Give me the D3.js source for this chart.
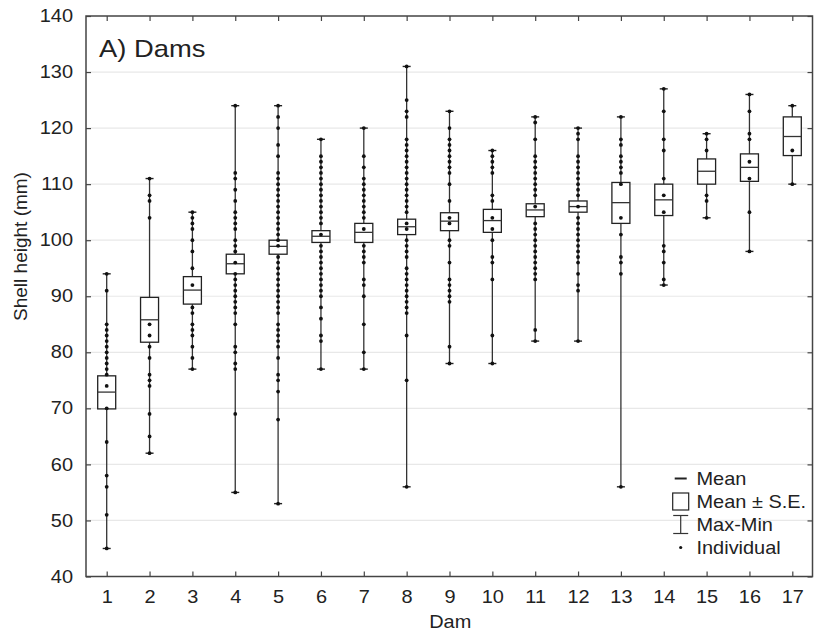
<!DOCTYPE html>
<html><head><meta charset="utf-8">
<script src="https://cdn.jsdelivr.net/npm/d3@7"></script>
<style>body{margin:0;background:#fff}svg{display:block}text{font-family:"Liberation Sans",Arial,Helvetica,sans-serif;fill:#222}</style>
</head><body>
<svg id="c" width="815" height="639"></svg>
<script>
const dams = [1,2,3,4,5,6,7,8,9,10,11,12,13,14,15,16,17];
const means  = [72.9, 85.8, 91.1, 95.8, 98.9, 100.7, 101.4, 102.4, 103.4, 103.5, 105.4, 106, 106.7, 107.2, 112.3, 113, 118.5];
const seLow  = [69.9, 81.8, 88.6, 94, 97.5, 99.6, 99.6, 101, 101.7, 101.4, 104.2, 105, 103, 104.4, 110, 110.5, 115.1];
const seHigh = [75.8, 89.8, 93.5, 97.5, 100, 101.7, 103, 103.75, 104.9, 105.5, 106.5, 107, 110.3, 110, 114.5, 115.4, 122];
const mins = [45, 62, 77, 55, 53, 77, 77, 56, 78, 78, 82, 82, 56, 92, 104, 98, 110];
const maxs = [94, 111, 105, 124, 124, 118, 120, 131, 123, 116, 122, 120, 122, 127, 119, 126, 124];
const individuals = [
  [94, 91, 85, 84, 83, 82, 81, 80, 79, 78, 77, 76, 74, 70, 64, 58, 56, 51, 45],
  [111, 108, 107, 104, 85, 83, 81, 79, 76, 75, 74, 69, 65, 62],
  [105, 104, 103, 102, 100, 98, 95, 92, 88, 87, 85, 84, 83, 81, 79, 77],
  [124, 112, 111, 109, 107, 105, 104, 103, 102, 100, 99, 98, 96, 94, 93, 92, 91, 90, 89, 88, 87, 85, 81, 80, 78, 77, 69, 55],
  [124, 122, 120, 117, 115, 112, 111, 110, 109, 108, 107, 106, 105, 104, 103, 102, 101, 100, 99, 97, 96, 95, 94, 93, 92, 91, 90, 89, 88, 87, 85, 84, 83, 82, 81, 79, 76, 75, 73, 68, 53],
  [118, 115, 114, 113, 112, 111, 110, 109, 108, 107, 106, 105, 104, 103, 101, 99, 98, 97, 96, 95, 94, 93, 92, 91, 90, 88, 86, 83, 82, 77],
  [120, 115, 113, 111, 110, 109, 108, 107, 106, 105, 104, 102, 99, 98, 97, 96, 93, 92, 90, 85, 80, 77],
  [131, 125, 123, 122, 118, 117, 116, 115, 114, 113, 112, 111, 110, 109, 108, 107, 106, 105, 103, 102, 100, 99, 98, 97, 95, 94, 93, 92, 91, 90, 89, 88, 87, 83, 75, 56],
  [123, 120, 118, 117, 116, 115, 114, 113, 112, 110, 107, 104, 103, 100, 99, 96, 93, 92, 91, 90, 89, 81, 78],
  [116, 115, 114, 113, 112, 108, 107, 104, 102, 100, 97, 96, 93, 83, 78],
  [122, 121, 118, 115, 114, 113, 112, 111, 110, 109, 108, 106, 103, 102, 101, 100, 99, 98, 97, 96, 95, 94, 93, 84, 82],
  [120, 119, 118, 115, 114, 113, 112, 111, 110, 109, 108, 106, 104, 103, 102, 101, 100, 99, 98, 97, 96, 94, 92, 91, 82],
  [122, 118, 117, 115, 114, 113, 112, 110, 104, 101, 97, 96, 94, 56],
  [127, 123, 118, 116, 111, 108, 105, 99, 98, 96, 93, 92],
  [119, 118, 116, 108, 107, 104],
  [126, 123, 119, 118, 114, 111, 105, 98],
  [124, 116, 110]
];
const yTicks = [40, 50, 60, 70, 80, 90, 100, 110, 120, 130, 140];
const legendItems = ["Mean", "Mean \u00b1 S.E.", "Max-Min", "Individual"];

const SX = 1.14; // horizontal text stretch
const svg = d3.select("#c");
const L = 86, R = 812.5, T = 16, B = 576.5;
const x = d3.scalePoint().domain(dams).range([106.7, 792.3]);
const y = d3.scaleLinear().domain([40, 140]).range([B, T]);

function stretchText(sel){
  sel.each(function(){
    const t = d3.select(this);
    const xx = +t.attr("x") || 0, yy = +t.attr("y") || 0;
    t.attr("x", 0).attr("y", 0).attr("transform", `translate(${xx},${yy}) scale(${SX},1)`);
  });
}

// gridlines
svg.append("g").selectAll("line").data(yTicks.filter(d => d > 40 && d < 140)).join("line")
  .attr("x1", L).attr("x2", R).attr("y1", d => y(d)).attr("y2", d => y(d))
  .attr("stroke", "#e8e8e8").attr("stroke-width", 1.2);

// axes
const gl = svg.append("g").attr("transform", `translate(${L},0)`)
  .call(d3.axisLeft(y).tickValues(yTicks).tickSize(-5).tickPadding(13).tickFormat(d3.format("d")));
const gr = svg.append("g").attr("transform", `translate(${R},0)`)
  .call(d3.axisRight(y).tickValues(yTicks).tickSize(-5).tickFormat(""));
const gb = svg.append("g").attr("transform", `translate(0,${B})`)
  .call(d3.axisBottom(x).tickSize(-5).tickPadding(14));
const gt = svg.append("g").attr("transform", `translate(0,${T})`)
  .call(d3.axisTop(x).tickSize(-5).tickFormat(""));
[gl, gr, gb, gt].forEach(g => {
  g.select(".domain").remove();
  g.selectAll("line").attr("stroke", "#444").attr("stroke-width", 1.2);
  g.selectAll("text").attr("font-size", 17.5).attr("fill", "#222").attr("font-family", '"Liberation Sans",Arial,sans-serif');
});
stretchText(gl.selectAll("text"));
stretchText(gb.selectAll("text"));

// frame
svg.append("rect").attr("x", L).attr("y", T).attr("width", R - L).attr("height", B - T)
  .attr("fill", "none").attr("stroke", "#444").attr("stroke-width", 1.5);

// axis titles
svg.append("text").attr("font-size", 17.5).attr("text-anchor", "middle")
  .attr("transform", `translate(${(L + R) / 2 + 1},628) scale(${SX},1)`).text("Dam");
svg.append("text").attr("font-size", 19).attr("text-anchor", "middle")
  .attr("transform", `translate(27,246.5) rotate(-90)`).text("Shell height (mm)");

// panel label
svg.append("text").attr("font-size", 24).attr("transform", `translate(99,57) scale(${SX},1)`).text("A) Dams");

// boxes
const bw = 18, cap = 8;
const g = svg.append("g");
const rows = dams.map((d, i) => ({d, mean: means[i], lo: seLow[i], hi: seHigh[i], mn: mins[i], mx: maxs[i], pts: individuals[i]}));
g.selectAll(".wh").data(rows).join("line")
  .attr("x1", r => x(r.d)).attr("x2", r => x(r.d)).attr("y1", r => y(r.mn)).attr("y2", r => y(r.mx))
  .attr("stroke", "#333").attr("stroke-width", 1.3);
g.selectAll(".capmin").data(rows).join("line")
  .attr("x1", r => x(r.d) - cap / 2).attr("x2", r => x(r.d) + cap / 2).attr("y1", r => y(r.mn)).attr("y2", r => y(r.mn))
  .attr("stroke", "#222").attr("stroke-width", 1.4);
g.selectAll(".capmax").data(rows).join("line")
  .attr("x1", r => x(r.d) - cap / 2).attr("x2", r => x(r.d) + cap / 2).attr("y1", r => y(r.mx)).attr("y2", r => y(r.mx))
  .attr("stroke", "#222").attr("stroke-width", 1.4);
g.selectAll(".box").data(rows).join("rect")
  .attr("x", r => x(r.d) - bw / 2).attr("width", bw).attr("y", r => y(r.hi)).attr("height", r => y(r.lo) - y(r.hi))
  .attr("fill", "#fff").attr("stroke", "#222").attr("stroke-width", 1.3);
g.selectAll(".mean").data(rows).join("line")
  .attr("x1", r => x(r.d) - bw / 2).attr("x2", r => x(r.d) + bw / 2).attr("y1", r => y(r.mean)).attr("y2", r => y(r.mean))
  .attr("stroke", "#333").attr("stroke-width", 1.3);
g.selectAll(".pts").data(rows).join("g").each(function(r){
  d3.select(this).selectAll("circle").data(r.pts).join("circle")
    .attr("cx", x(r.d)).attr("cy", v => y(v)).attr("r", 1.9).attr("fill", "#111");
});

// legend
const lg = svg.append("g");
const lx = 680.7, ly0 = 478.5, ldy = 23;
lg.append("line").attr("x1", lx - 6).attr("x2", lx + 6).attr("y1", ly0).attr("y2", ly0).attr("stroke", "#222").attr("stroke-width", 2);
lg.append("rect").attr("x", lx - 8).attr("y", ly0 + ldy - 8.5).attr("width", 16).attr("height", 17)
  .attr("fill", "#fff").attr("stroke", "#222").attr("stroke-width", 1.2);
lg.append("line").attr("x1", lx).attr("x2", lx).attr("y1", ly0 + 2 * ldy - 9).attr("y2", ly0 + 2 * ldy + 9).attr("stroke", "#333").attr("stroke-width", 1.2);
lg.append("line").attr("x1", lx - 7.5).attr("x2", lx + 7.5).attr("y1", ly0 + 2 * ldy - 9).attr("y2", ly0 + 2 * ldy - 9).attr("stroke", "#333").attr("stroke-width", 1.2);
lg.append("line").attr("x1", lx - 7.5).attr("x2", lx + 7.5).attr("y1", ly0 + 2 * ldy + 9).attr("y2", ly0 + 2 * ldy + 9).attr("stroke", "#333").attr("stroke-width", 1.2);
lg.append("circle").attr("cx", lx).attr("cy", ly0 + 3 * ldy).attr("r", 1.6).attr("fill", "#111");
lg.selectAll("text").data(legendItems).join("text").attr("font-size", 17.5)
  .attr("transform", (d, i) => `translate(696.5,${ly0 + i * ldy + 6.5}) scale(${SX},1)`).text(d => d);
</script>
</body></html>
